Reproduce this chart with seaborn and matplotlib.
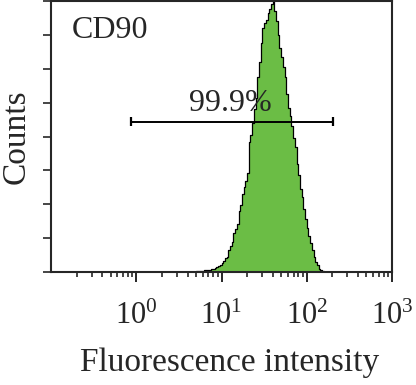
import numpy as np
import matplotlib
matplotlib.use("Agg")
import matplotlib.pyplot as plt
import seaborn as sns
from matplotlib.ticker import FixedLocator, FixedFormatter, LogLocator, NullFormatter

# histogram channels (log10 of fluorescence intensity) and counts per channel
log_channel = [0.71, 0.73, 0.75, 0.77, 0.79, 0.81, 0.83, 0.85, 0.87, 0.89,
               0.91, 0.93, 0.95, 0.97, 0.99, 1.01, 1.03, 1.05, 1.07, 1.09,
               1.11, 1.13, 1.15, 1.17, 1.19, 1.21, 1.23, 1.25, 1.27, 1.29,
               1.31, 1.33, 1.35, 1.37, 1.39, 1.41, 1.43, 1.45, 1.47, 1.49,
               1.51, 1.53, 1.55, 1.57, 1.59, 1.61, 1.63, 1.65, 1.67, 1.69,
               1.71, 1.73, 1.75, 1.77, 1.79, 1.81, 1.83, 1.85, 1.87, 1.89,
               1.91, 1.93, 1.95, 1.97, 1.99, 2.01, 2.03, 2.05, 2.07, 2.09,
               2.11, 2.13, 2.15, 2.17, 2.19, 2.21, 2.23]
counts = [0.02, 0.02, 0.03, 0.04, 0.03, 0.05, 0.06, 0.05, 0.06, 0.08,
          0.10, 0.13, 0.15, 0.19, 0.22, 0.27, 0.33, 0.42, 0.45, 0.66,
          0.78, 0.88, 1.15, 1.28, 1.42, 1.80, 1.98, 2.30, 2.50, 2.70,
          2.92, 3.85, 4.05, 4.40, 4.80, 5.15, 5.75, 6.20, 6.75, 7.20,
          7.35, 7.45, 7.65, 7.75, 7.90, 8.00, 7.70, 7.40, 7.00, 6.60,
          6.35, 6.05, 5.75, 5.25, 4.85, 4.60, 4.30, 3.95, 3.70, 3.20,
          2.85, 2.45, 2.20, 1.85, 1.55, 1.30, 1.05, 0.85, 0.65, 0.45,
          0.30, 0.20, 0.10, 0.06, 0.03, 0.01, 0.01]

gate_low, gate_high, gate_y = 0.87, 203, 4.44
gate_label = "99.9%"
marker = "CD90"
xtick_vals = [1, 10, 100, 1000]
xtick_labels = [r"$\mathregular{10^{0}}$", r"$\mathregular{10^{1}}$",
                r"$\mathregular{10^{2}}$", r"$\mathregular{10^{3}}$"]

sns.set_style("ticks")
plt.rcParams["font.family"] = ["Liberation Serif", "DejaVu Serif"]

fig = plt.figure(figsize=(4.16, 3.85), dpi=100)
ax = fig.add_axes([51 / 416, (385 - 272) / 385, 341 / 416, 271 / 385])

intensity = [10 ** v for v in log_channel]
sns.histplot(x=intensity, weights=counts, log_scale=True, binwidth=0.02,
             binrange=(0.70, 2.24), element="step", fill=True,
             color="#6bbd45", alpha=1, edgecolor="black", linewidth=0.9, ax=ax)

# gate bar
ax.hlines(gate_y, gate_low, gate_high, color="black", lw=1.4)
ax.vlines([gate_low, gate_high], gate_y - 0.13, gate_y + 0.13, color="black", lw=1.6)
ax.text(12.6, gate_y + 0.1, gate_label, ha="center", va="bottom", fontsize=23)
ax.text(0.062, 0.863, marker, transform=ax.transAxes, fontsize=23, va="baseline")

ax.set_xlim(0.1, 1000)
ax.set_ylim(0, 8)
ax.xaxis.set_major_locator(FixedLocator(xtick_vals))
ax.xaxis.set_major_formatter(FixedFormatter(xtick_labels))
ax.xaxis.set_minor_locator(LogLocator(base=10, subs=np.arange(2, 10)))
ax.xaxis.set_minor_formatter(NullFormatter())
ax.set_yticks(range(0, 9))
ax.set_yticklabels([])

ax.tick_params(axis="x", which="major", length=7.5, width=1.4, labelsize=22, pad=14)
ax.tick_params(axis="x", which="minor", length=3.8, width=1.2)
ax.tick_params(axis="y", which="major", length=5.8, width=1.2)
for s in ax.spines.values():
    s.set_linewidth(1.5)
    s.set_visible(True)

ax.set_xlabel("Fluorescence intensity", fontsize=24)
ax.xaxis.set_label_coords(0.525, -0.28)
ax.set_ylabel("Counts", fontsize=24)
ax.yaxis.set_label_coords(-0.058, 0.5)

fig.savefig("out.png", dpi=100)
